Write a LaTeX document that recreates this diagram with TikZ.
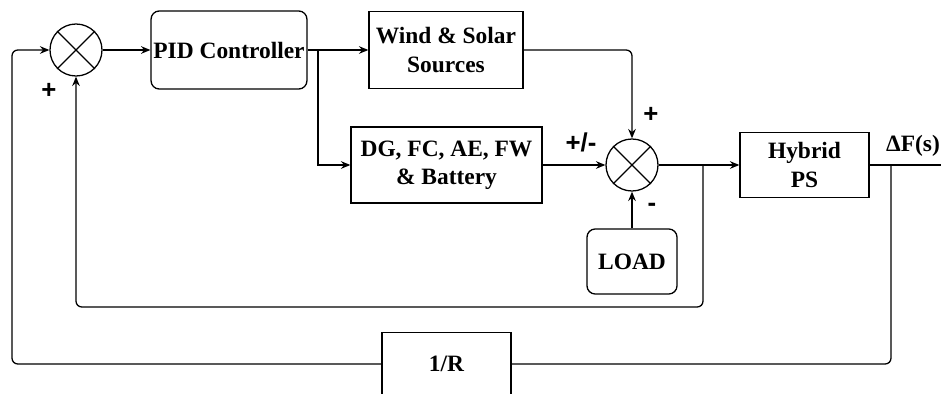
\documentclass[tikz,border=0pt]{standalone}
\usepackage{fontspec}
\setmainfont{Liberation Serif}
\setsansfont{Liberation Sans}
\usetikzlibrary{arrows.meta}
\usetikzlibrary{positioning}

\tikzset{
    block/.style={draw, rectangle, align=center, inner sep=2pt},
    roundblock/.style={block, rounded corners=7pt},
    sumjunc/.style={draw, circle, inner sep=0pt, minimum size=1.56cm},
    sign/.style={font=\fontsize{22}{24}\selectfont\sffamily\bfseries, inner sep=0pt},
    loopline/.style={rounded corners=5pt}
}

\begin{document}
\begin{tikzpicture}[x=0.03cm, y=-0.03cm, line width=1.1pt,
    font=\fontsize{20}{24}\selectfont\bfseries,
    >={Stealth[length=8pt,width=6.5pt]}]
    % 1. Fix the frame of the picture
    \useasboundingbox (0,0) rectangle (941,394);

    % 2. Summing junctions with their crosses
    \node[sumjunc] (sumA) at (76,50) {};
    \node[sumjunc] (sumB) at (632,165) {};
    \foreach \s in {sumA, sumB} {
        \draw (\s.45) -- (\s.225);
        \draw (\s.135) -- (\s.315);
    }

    % 3. Blocks
    \node[roundblock, minimum width=4.62cm, minimum height=2.34cm] (pid) at (229,50) {PID Controller};
    \node[block, minimum width=4.62cm, minimum height=2.31cm] (res) at (446,50) {Wind \& Solar\\Sources};
    \node[block, minimum width=5.73cm, minimum height=2.28cm] (dg) at (446.5,165) {DG, FC, AE, FW\\\& Battery};
    \node[block, minimum width=3.87cm, minimum height=1.95cm] (hps) at (804.5,165) {Hybrid\\PS};
    \node[roundblock, minimum width=2.7cm, minimum height=1.95cm] (load) at (632,261.5) {LOAD};
    \node[block, minimum width=3.87cm, minimum height=1.9cm] (invr) at (446.5,364) {1/R};

    % 4. Branch points and free ends
    \coordinate (brPID) at (318,50);
    \coordinate (brSum) at (703,165);
    \coordinate (brOut) at (891,165);
    \coordinate (outEnd) at (941,165);
    \coordinate (leftX) at (12,0);
    \coordinate (loopY) at (0,307);

    % 5. Forward path
    \draw[->] (sumA) -- (pid);
    \draw[->] (pid) -- (res);
    \draw[->] (brPID) |- (dg.west);
    \draw[->, loopline] (res.east) -| (sumB.north);
    \draw[->] (dg) -- (sumB);
    \draw[->] (load) -- (sumB);
    \draw[->] (sumB) -- (hps);
    \draw (hps) -- (outEnd);

    % 6. Feedback loops
    \draw[->, loopline] (brSum) |- (sumA |- loopY) -- (sumA.south);
    \draw[loopline] (brOut) |- (invr.east);
    \draw[->, loopline] (invr.west) -| (leftX |- sumA.west) -- (sumA.west);

    % 7. Signs and output label
    \node[sign] (plusA) at (49,91) {+};
    \node[sign] (plusB) at (651,115) {+};
    \node[sign] (minusB) at (652,207) {-};
    \node[sign] (pmDG) at (581,142) {+/-};
    \node (dF) at (913,146) {ΔF(s)};
\end{tikzpicture}
\end{document}
